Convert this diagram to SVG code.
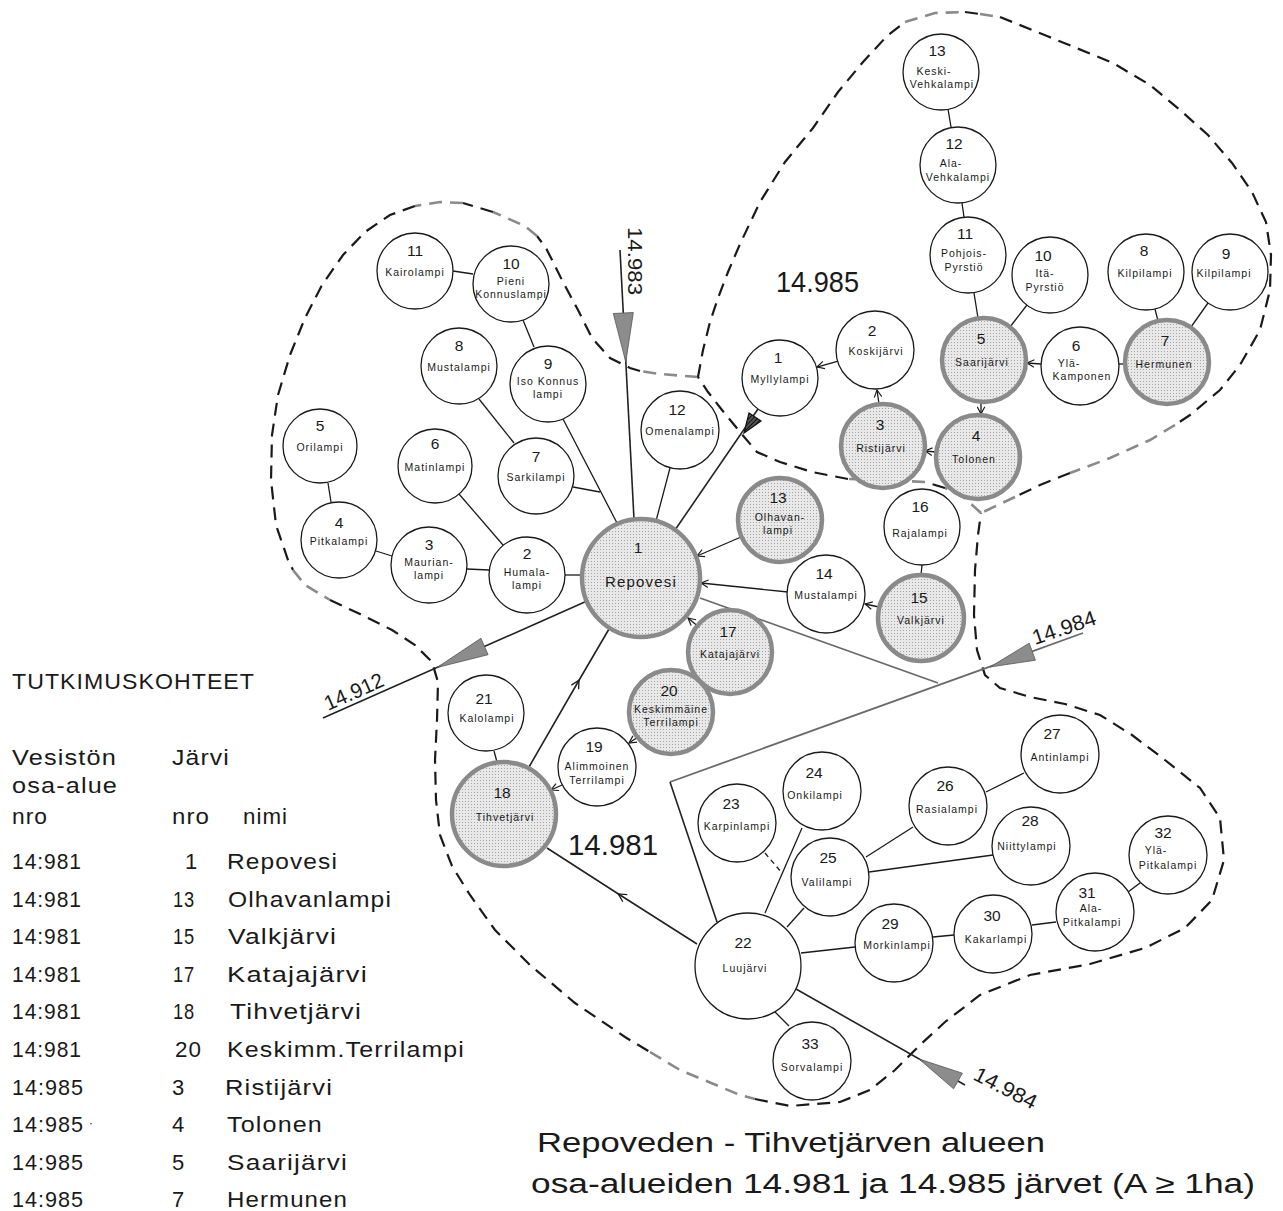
<svg xmlns="http://www.w3.org/2000/svg" width="1283" height="1211" viewBox="0 0 1283 1211">
<defs>
<pattern id="dots" width="3" height="3" patternUnits="userSpaceOnUse"><rect width="3" height="3" fill="#e8e8e8"/><rect width="1" height="1" fill="#a6a6a6"/></pattern>
<pattern id="hatch" width="3" height="3" patternUnits="userSpaceOnUse" patternTransform="rotate(45)"><rect width="3" height="3" fill="#555"/><rect width="1" height="3" fill="#111"/></pattern>
<marker id="oa" viewBox="0 0 10 10" refX="9" refY="5" markerWidth="9" markerHeight="9" markerUnits="userSpaceOnUse" orient="auto"><path d="M1,0.8 L9,5 L1,9.2" fill="none" stroke="#1a1a1a" stroke-width="1.3"/></marker>
<marker id="om" viewBox="0 0 10 10" refX="7" refY="5" markerWidth="10" markerHeight="10" markerUnits="userSpaceOnUse" orient="auto"><path d="M1,0.8 L9,5 L1,9.2" fill="none" stroke="#1a1a1a" stroke-width="1.3"/></marker>
</defs>
<style>
text{font-family:"Liberation Sans",Arial,sans-serif;fill:#1a1a1a}
.c{fill:#fff;stroke:#1a1a1a;stroke-width:1.3}
.h{fill:url(#dots);stroke:#8a8a8a;stroke-width:4.5}
.num{font-size:15.5px;text-anchor:middle}
.lab{font-size:10.5px;letter-spacing:1px;text-anchor:middle}
.big{font-size:15px;letter-spacing:1.2px;text-anchor:middle}
.ln{fill:none;stroke:#1a1a1a;stroke-width:1.3}
.fl{fill:none;stroke:#222;stroke-width:1.6}
.flg{fill:none;stroke:#6a6a6a;stroke-width:1.8}
.dsh{stroke-dasharray:5 4}
.ah{fill:#8c8c8c;stroke:#555;stroke-width:0.8}
.bd{fill:none;stroke:#1a1a1a;stroke-width:2.2;stroke-dasharray:13 8}
.bg{fill:none;stroke:#8a8a8a;stroke-width:2.6;stroke-dasharray:13 8}
.lg{font-size:22px;letter-spacing:1px}
.reg{font-size:30px}
.cod{font-size:21px}
.ttl{font-size:27px}
</style>
<rect width="1283" height="1211" fill="#fff"/>

<g id="boundaries">
<path class="bg" d="M698,377 L660,374 L640,371"/>
<path class="bd" d="M640,371 L630,368 L610,358 L592,338 L578,310 L562,280 L546,248 L537,236"/>
<path class="bg" d="M537,236 L525,226 L493,212"/>
<path class="bd" d="M493,212 L463,203"/>
<path class="bg" d="M463,203 L440,202 L415,206"/>
<path class="bd" d="M415,206 L390,215 L365,232 L343,255 L322,285 L305,318 L290,355 L278,395 L272,435 L271,480 L276,525 L288,560 L293,570"/>
<path class="bg" d="M293,570 L305,585 L330,600"/>
<path class="bd" d="M330,600 L360,614 L392,630 L415,645 L432,662 L438,682 L437,720 L435,760 L436,800 L440,835 L452,866 L470,895 L495,930 L530,965 L575,1003 L625,1037 L650,1052"/>
<path class="bg" d="M650,1052 L680,1070 L740,1095 L755,1099"/>
<path class="bd" d="M755,1099 L790,1106 L840,1102 L870,1090 L895,1070 L920,1045 L945,1022 L980,995 L1030,975 L1090,964 L1145,948 L1185,928 L1212,900 L1224,860 L1220,818 L1200,788 L1165,760 L1132,735 L1100,715 L1065,704 L1030,697 L1000,688 L985,675 L977,650 L974,615 L975,570 L978,535 L981,513"/>
<path class="bg" d="M981,513 L960,494 L945,488"/>
<path class="bd" d="M945,488 L925,482"/>
<path class="bg" d="M925,482 L885,480 L848,479"/>
<path class="bd" d="M848,479 L812,472 L780,462 L757,452 L740,432 L722,410 L708,392 L698,377"/>
<path class="bd" d="M698,377 L703,350 L710,322 L718,298 L728,272 L740,244 L760,202 L785,162 L813,128 L838,92 L863,62 L887,36 L905,22"/>
<path class="bg" d="M905,22 L935,13 L965,12"/>
<path class="bd" d="M965,12 L980,14"/>
<path class="bg" d="M980,14 L1000,17"/>
<path class="bd" d="M1000,17 L1047,36 L1113,63 L1150,85 L1180,110 L1208,135 L1232,163 L1252,192 L1266,222 L1271,255 L1270,290 L1260,330 L1240,365 L1220,390 L1190,415 L1175,425"/>
<path class="bg" d="M1175,425 L1150,440 L1110,458 L1070,473"/>
<path class="bd" d="M1070,473 L1040,485 L1015,497"/>
<path class="bg" d="M1015,497 L981,513"/>
</g>

<g id="connectors">
<line class="ln" x1="453" y1="271" x2="473" y2="274"/>
<line class="ln" x1="523" y1="320" x2="534" y2="347"/>
<line class="ln" x1="479" y1="399" x2="514" y2="443"/>
<line class="ln" x1="563" y1="419" x2="617" y2="523"/>
<line class="ln" x1="573" y1="487" x2="600" y2="492"/>
<line class="ln" x1="328" y1="483" x2="331" y2="502"/>
<line class="ln" x1="376" y1="551" x2="392" y2="556"/>
<line class="ln" x1="467" y1="569" x2="489" y2="570"/>
<line class="ln" x1="459" y1="494" x2="503" y2="545"/>
<line class="ln" x1="565" y1="575" x2="583" y2="575"/>
<line class="fl" x1="620" y1="250" x2="634" y2="519"/>
<polygon class="ah" points="613.3,313.5 633.3,312.5 625.8,362"/>
<line class="ln" x1="670" y1="468" x2="656" y2="521"/>
<line class="fl" x1="675" y1="530" x2="758" y2="409"/>
<polygon points="744,433 749,413 761,421" fill="url(#hatch)" stroke="#111" stroke-width="1.2"/>
<line class="ln" x1="741" y1="537" x2="697" y2="556" marker-end="url(#oa)"/>
<line class="ln" x1="788" y1="592" x2="701" y2="583" marker-end="url(#oa)"/>
<line class="flg" x1="700" y1="598" x2="938" y2="683"/>
<line class="ln" x1="700" y1="628" x2="688" y2="618" marker-end="url(#oa)"/>
<line class="ln" x1="638" y1="737" x2="629" y2="743" marker-end="url(#oa)"/>
<line class="ln" x1="562" y1="785" x2="551" y2="790" marker-end="url(#oa)"/>
<line class="ln" x1="494" y1="751" x2="497" y2="762"/>
<path class="fl" d="M529,767 L578,682 L609,629" marker-mid="url(#om)"/>
<line class="ln" x1="879" y1="607" x2="865" y2="604" marker-end="url(#oa)"/>
<line class="ln" x1="922" y1="565" x2="921" y2="575"/>
<line class="fl" x1="587" y1="601" x2="323" y2="718"/>
<polygon class="ah" points="480.9,638.3 488.1,654.7 437,667.5"/>
<path class="flg" d="M1083,633 L670,782"/>
<path class="fl" d="M670,782 L717,922"/>
<polygon class="ah" points="1029.2,643.2 1035.4,660.2 990,667"/>
<line class="fl" x1="796" y1="989" x2="965" y2="1085"/>
<polygon class="ah" points="962.4,1073.2 953.6,1088.8 919,1059"/>
<path class="fl" d="M697,944 L620,895 L547,848" marker-mid="url(#om)"/>
<line class="ln dsh" x1="765" y1="853" x2="782" y2="873"/>
<line class="ln" x1="802" y1="828" x2="765" y2="913"/>
<line class="ln" x1="804" y1="908" x2="787" y2="927"/>
<line class="ln" x1="866" y1="857" x2="913" y2="827"/>
<line class="ln" x1="986" y1="792" x2="1024" y2="773"/>
<line class="ln" x1="869" y1="872" x2="993" y2="855"/>
<line class="ln" x1="801" y1="953" x2="855" y2="947"/>
<line class="ln" x1="933" y1="937" x2="954" y2="935"/>
<line class="ln" x1="1032" y1="925" x2="1056" y2="922"/>
<line class="ln" x1="1128" y1="892" x2="1140" y2="883"/>
<line class="ln" x1="775" y1="1012" x2="789" y2="1026"/>
<line class="ln" x1="838" y1="361" x2="817" y2="367" marker-end="url(#oa)"/>
<line class="ln" x1="879" y1="404" x2="877" y2="390" marker-end="url(#oa)"/>
<line class="ln" x1="936" y1="452" x2="925" y2="451" marker-end="url(#oa)"/>
<line class="ln" x1="981" y1="402" x2="981" y2="414" marker-end="url(#oa)"/>
<line class="ln" x1="1041" y1="364" x2="1027" y2="363" marker-end="url(#oa)"/>
<line class="ln" x1="1125" y1="364" x2="1119" y2="364"/>
<line class="ln" x1="1155" y1="309" x2="1158" y2="321"/>
<line class="ln" x1="1208" y1="303" x2="1191" y2="327"/>
<line class="ln" x1="1027" y1="305" x2="1010" y2="327"/>
<line class="ln" x1="974" y1="293" x2="978" y2="318"/>
<line class="ln" x1="962" y1="203" x2="964" y2="217"/>
<line class="ln" x1="948" y1="109" x2="951" y2="127"/>
</g>

<g id="n-l11"><circle class="c" cx="415" cy="271" r="38"/><text class="num" x="415" y="256">11</text><text class="lab" x="415" y="276">Kairolampi</text></g>
<g id="n-l10"><circle class="c" cx="511" cy="284" r="38"/><text class="num" x="511" y="269">10</text><text class="lab" x="511" y="285">Pieni</text><text class="lab" x="511" y="298">Konnuslampi</text></g>
<g id="n-l8"><circle class="c" cx="459" cy="366" r="38"/><text class="num" x="459" y="351">8</text><text class="lab" x="459" y="371">Mustalampi</text></g>
<g id="n-l9"><circle class="c" cx="548" cy="384" r="38"/><text class="num" x="548" y="369">9</text><text class="lab" x="548" y="385">Iso Konnus</text><text class="lab" x="548" y="398">lampi</text></g>
<g id="n-l5"><circle class="c" cx="320" cy="446" r="37"/><text class="num" x="320" y="431">5</text><text class="lab" x="320" y="451">Orilampi</text></g>
<g id="n-l6"><circle class="c" cx="435" cy="466" r="37"/><text class="num" x="435" y="449">6</text><text class="lab" x="435" y="471">Matinlampi</text></g>
<g id="n-l7"><circle class="c" cx="536" cy="476" r="38"/><text class="num" x="536" y="462">7</text><text class="lab" x="536" y="481">Sarkilampi</text></g>
<g id="n-l4"><circle class="c" cx="339" cy="540" r="38"/><text class="num" x="339" y="528">4</text><text class="lab" x="339" y="545">Pitkalampi</text></g>
<g id="n-l3"><circle class="c" cx="429" cy="565" r="38"/><text class="num" x="429" y="550">3</text><text class="lab" x="429" y="566">Maurian-</text><text class="lab" x="429" y="579">lampi</text></g>
<g id="n-l2"><circle class="c" cx="527" cy="575" r="38"/><text class="num" x="527" y="559">2</text><text class="lab" x="527" y="576">Humala-</text><text class="lab" x="527" y="589">lampi</text></g>

<g id="n-c1"><circle class="h" cx="641" cy="578" r="59"/><text class="num" x="638" y="553">1</text><text class="big" x="641" y="587">Repovesi</text></g>
<g id="n-c12"><circle class="c" cx="680" cy="430" r="39"/><text class="num" x="677" y="415">12</text><text class="lab" x="680" y="435">Omenalampi</text></g>
<g id="n-c13"><circle class="h" cx="780" cy="520" r="42"/><text class="num" x="778" y="503">13</text><text class="lab" x="780" y="521">Olhavan-</text><text class="lab" x="778" y="534">lampi</text></g>
<g id="n-c14"><circle class="c" cx="826" cy="594" r="39"/><text class="num" x="824" y="579">14</text><text class="lab" x="826" y="599">Mustalampi</text></g>
<g id="n-c16"><circle class="c" cx="922" cy="527" r="38"/><text class="num" x="920" y="512">16</text><text class="lab" x="920" y="537">Rajalampi</text></g>
<g id="n-c15"><circle class="h" cx="921" cy="618" r="43"/><text class="num" x="919" y="603">15</text><text class="lab" x="921" y="624">Valkjärvi</text></g>
<g id="n-c17"><circle class="h" cx="730" cy="652" r="42"/><text class="num" x="728" y="637">17</text><text class="lab" x="730" y="658">Katajajärvi</text></g>
<g id="n-c20"><circle class="h" cx="671" cy="712" r="42"/><text class="num" x="669" y="696">20</text><text class="lab" x="671" y="713">Keskimmäine</text><text class="lab" x="671" y="726">Terrilampi</text></g>
<g id="n-c19"><circle class="c" cx="597" cy="767" r="39"/><text class="num" x="594" y="752">19</text><text class="lab" x="597" y="770">Alimmoinen</text><text class="lab" x="597" y="784">Terrilampi</text></g>
<g id="n-c21"><circle class="c" cx="486" cy="713" r="38"/><text class="num" x="484" y="704">21</text><text class="lab" x="487" y="722">Kalolampi</text></g>
<g id="n-c18"><circle class="h" cx="504" cy="814" r="52"/><text class="num" x="502" y="798">18</text><text class="lab" x="505" y="821">Tihvetjärvi</text></g>

<g id="n-r1"><circle class="c" cx="780" cy="378" r="38"/><text class="num" x="778" y="363">1</text><text class="lab" x="780" y="383">Myllylampi</text></g>
<g id="n-r2"><circle class="c" cx="875" cy="350" r="39"/><text class="num" x="872" y="336">2</text><text class="lab" x="876" y="355">Koskijärvi</text></g>
<g id="n-r3"><circle class="h" cx="883" cy="446" r="42"/><text class="num" x="880" y="430">3</text><text class="lab" x="881" y="452">Ristijärvi</text></g>
<g id="n-r4"><circle class="h" cx="978" cy="457" r="42"/><text class="num" x="976" y="441">4</text><text class="lab" x="974" y="463">Tolonen</text></g>
<g id="n-r5"><circle class="h" cx="984" cy="360" r="42"/><text class="num" x="981" y="344">5</text><text class="lab" x="982" y="366">Saarijärvi</text></g>
<g id="n-r6"><circle class="c" cx="1080" cy="366" r="39"/><text class="num" x="1076" y="351">6</text><text class="lab" x="1069" y="367">Ylä-</text><text class="lab" x="1082" y="380">Kamponen</text></g>
<g id="n-r7"><circle class="h" cx="1167" cy="362" r="42"/><text class="num" x="1165" y="346">7</text><text class="lab" x="1164" y="368">Hermunen</text></g>
<g id="n-r8"><circle class="c" cx="1146" cy="272" r="38"/><text class="num" x="1144" y="256">8</text><text class="lab" x="1145" y="277">Kilpilampi</text></g>
<g id="n-r9"><circle class="c" cx="1230" cy="272" r="38"/><text class="num" x="1226" y="259">9</text><text class="lab" x="1224" y="277">Kilpilampi</text></g>
<g id="n-r10"><circle class="c" cx="1050" cy="275" r="38"/><text class="num" x="1043" y="261">10</text><text class="lab" x="1045" y="277">Itä-</text><text class="lab" x="1045" y="291">Pyrstiö</text></g>
<g id="n-r11"><circle class="c" cx="968" cy="255" r="38"/><text class="num" x="965" y="239">11</text><text class="lab" x="964" y="257">Pohjois-</text><text class="lab" x="964" y="271">Pyrstiö</text></g>
<g id="n-r12"><circle class="c" cx="958" cy="165" r="38"/><text class="num" x="954" y="149">12</text><text class="lab" x="951" y="167">Ala-</text><text class="lab" x="958" y="181">Vehkalampi</text></g>
<g id="n-r13"><circle class="c" cx="941" cy="72" r="38"/><text class="num" x="937" y="56">13</text><text class="lab" x="934" y="75">Keski-</text><text class="lab" x="942" y="88">Vehkalampi</text></g>

<g id="n-b22"><circle class="c" cx="748" cy="966" r="53"/><text class="num" x="743" y="948">22</text><text class="lab" x="745" y="972">Luujärvi</text></g>
<g id="n-b23"><circle class="c" cx="737" cy="823" r="39"/><text class="num" x="731" y="809">23</text><text class="lab" x="737" y="830">Karpinlampi</text></g>
<g id="n-b24"><circle class="c" cx="822" cy="791" r="39"/><text class="num" x="814" y="778">24</text><text class="lab" x="815" y="799">Onkilampi</text></g>
<g id="n-b25"><circle class="c" cx="830" cy="877" r="39"/><text class="num" x="828" y="863">25</text><text class="lab" x="827" y="886">Valilampi</text></g>
<g id="n-b26"><circle class="c" cx="948" cy="806" r="39"/><text class="num" x="945" y="791">26</text><text class="lab" x="947" y="813">Rasialampi</text></g>
<g id="n-b27"><circle class="c" cx="1060" cy="754" r="39"/><text class="num" x="1052" y="739">27</text><text class="lab" x="1060" y="761">Antinlampi</text></g>
<g id="n-b28"><circle class="c" cx="1031" cy="846" r="39"/><text class="num" x="1030" y="826">28</text><text class="lab" x="1027" y="850">Niittylampi</text></g>
<g id="n-b29"><circle class="c" cx="894" cy="943" r="39"/><text class="num" x="890" y="929">29</text><text class="lab" x="897" y="949">Morkinlampi</text></g>
<g id="n-b30"><circle class="c" cx="993" cy="934" r="39"/><text class="num" x="992" y="921">30</text><text class="lab" x="996" y="943">Kakarlampi</text></g>
<g id="n-b31"><circle class="c" cx="1095" cy="912" r="39"/><text class="num" x="1087" y="898">31</text><text class="lab" x="1091" y="912">Ala-</text><text class="lab" x="1092" y="926">Pitkalampi</text></g>
<g id="n-b32"><circle class="c" cx="1168" cy="855" r="39"/><text class="num" x="1163" y="838">32</text><text class="lab" x="1156" y="854">Ylä-</text><text class="lab" x="1168" y="869">Pitkalampi</text></g>
<g id="n-b33"><circle class="c" cx="812" cy="1061" r="39"/><text class="num" x="810" y="1049">33</text><text class="lab" x="812" y="1071">Sorvalampi</text></g>

<g id="codes">
<text class="reg" x="776" y="292" textLength="83" lengthAdjust="spacingAndGlyphs">14.985</text>
<text class="reg" x="568" y="855" textLength="90" lengthAdjust="spacingAndGlyphs">14.981</text>
<text class="cod" x="628" y="227" transform="rotate(90 628 227)" textLength="68" lengthAdjust="spacingAndGlyphs">14.983</text>
<text class="cod" x="328" y="711" transform="rotate(-23.9 328 711)" textLength="63" lengthAdjust="spacingAndGlyphs">14.912</text>
<text class="cod" x="1035" y="645" transform="rotate(-18.7 1035 645)" textLength="66" lengthAdjust="spacingAndGlyphs">14.984</text>
<text class="cod" x="972" y="1079" transform="rotate(27 972 1079)" textLength="68" lengthAdjust="spacingAndGlyphs">14.984</text>
</g>

<g id="legend">
<text class="lg" x="12" y="689" textLength="243" lengthAdjust="spacingAndGlyphs">TUTKIMUSKOHTEET</text>
<text class="lg" x="12" y="765" textLength="105" lengthAdjust="spacingAndGlyphs">Vesistön</text>
<text class="lg" x="172" y="765" textLength="58" lengthAdjust="spacingAndGlyphs">Järvi</text>
<text class="lg" x="12" y="793" textLength="106" lengthAdjust="spacingAndGlyphs">osa-alue</text>
<text class="lg" x="12" y="824" textLength="36" lengthAdjust="spacingAndGlyphs">nro</text>
<text class="lg" x="172" y="824" textLength="38" lengthAdjust="spacingAndGlyphs">nro</text>
<text class="lg" x="243" y="824" textLength="45" lengthAdjust="spacingAndGlyphs">nimi</text>
<text class="lg" x="12" y="869" textLength="70" lengthAdjust="spacingAndGlyphs">14:981</text>
<text class="lg" x="185" y="869">1</text>
<text class="lg" x="227" y="869" textLength="111" lengthAdjust="spacingAndGlyphs">Repovesi</text>
<text class="lg" x="12" y="906.6" textLength="70" lengthAdjust="spacingAndGlyphs">14:981</text>
<text class="lg" x="173" y="906.6" textLength="22" lengthAdjust="spacingAndGlyphs">13</text>
<text class="lg" x="228" y="906.6" textLength="164" lengthAdjust="spacingAndGlyphs">Olhavanlampi</text>
<text class="lg" x="12" y="944.2" textLength="70" lengthAdjust="spacingAndGlyphs">14:981</text>
<text class="lg" x="173" y="944.2" textLength="22" lengthAdjust="spacingAndGlyphs">15</text>
<text class="lg" x="228" y="944.2" textLength="109" lengthAdjust="spacingAndGlyphs">Valkjärvi</text>
<text class="lg" x="12" y="981.8" textLength="70" lengthAdjust="spacingAndGlyphs">14:981</text>
<text class="lg" x="173" y="981.8" textLength="22" lengthAdjust="spacingAndGlyphs">17</text>
<text class="lg" x="227" y="981.8" textLength="141" lengthAdjust="spacingAndGlyphs">Katajajärvi</text>
<text class="lg" x="12" y="1019.4" textLength="70" lengthAdjust="spacingAndGlyphs">14:981</text>
<text class="lg" x="173" y="1019.4" textLength="22" lengthAdjust="spacingAndGlyphs">18</text>
<text class="lg" x="230" y="1019.4" textLength="132" lengthAdjust="spacingAndGlyphs">Tihvetjärvi</text>
<text class="lg" x="12" y="1057" textLength="70" lengthAdjust="spacingAndGlyphs">14:981</text>
<text class="lg" x="175" y="1057" textLength="27" lengthAdjust="spacingAndGlyphs">20</text>
<text class="lg" x="227" y="1057" textLength="238" lengthAdjust="spacingAndGlyphs">Keskimm.Terrilampi</text>
<text class="lg" x="12" y="1094.6" textLength="72" lengthAdjust="spacingAndGlyphs">14:985</text>
<text class="lg" x="172" y="1094.6">3</text>
<text class="lg" x="225" y="1094.6" textLength="108" lengthAdjust="spacingAndGlyphs">Ristijärvi</text>
<text class="lg" x="12" y="1132.2" textLength="72" lengthAdjust="spacingAndGlyphs">14:985</text>
<text class="lg" x="89" y="1127" style="font-size:12px">·</text>
<text class="lg" x="172" y="1132.2">4</text>
<text class="lg" x="227" y="1132.2" textLength="96" lengthAdjust="spacingAndGlyphs">Tolonen</text>
<text class="lg" x="12" y="1169.8" textLength="72" lengthAdjust="spacingAndGlyphs">14:985</text>
<text class="lg" x="172" y="1169.8">5</text>
<text class="lg" x="227" y="1169.8" textLength="121" lengthAdjust="spacingAndGlyphs">Saarijärvi</text>
<text class="lg" x="12" y="1207.4" textLength="72" lengthAdjust="spacingAndGlyphs">14:985</text>
<text class="lg" x="172" y="1207.4">7</text>
<text class="lg" x="227" y="1207.4" textLength="121" lengthAdjust="spacingAndGlyphs">Hermunen</text>
</g>

<g id="title">
<text class="ttl" x="537" y="1152" textLength="508" lengthAdjust="spacingAndGlyphs">Repoveden - Tihvetjärven alueen</text>
<text class="ttl" x="531" y="1193" textLength="724" lengthAdjust="spacingAndGlyphs">osa-alueiden 14.981 ja 14.985 järvet (A ≥ 1ha)</text>
</g>
</svg>
